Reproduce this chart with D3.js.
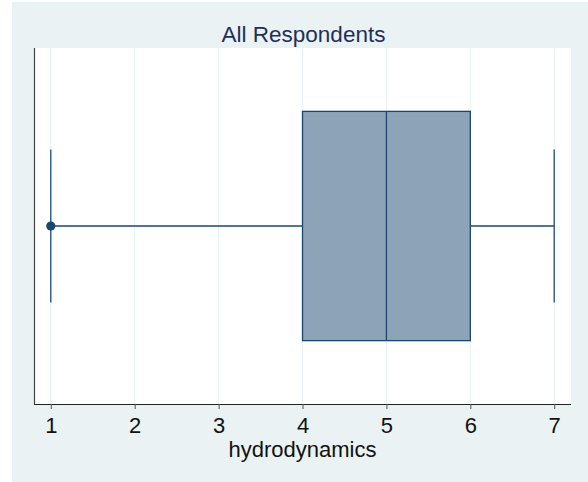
<!DOCTYPE html>
<html>
<head>
<meta charset="utf-8">
<script src="https://cdn.jsdelivr.net/npm/d3@7"></script>
<style>
  html, body { margin: 0; padding: 0; background: #ffffff; }
  svg { display: block; }
  text { font-family: "Liberation Sans", Arial, sans-serif; }
</style>
</head>
<body>
<svg id="chart" width="588" height="482"></svg>
<script>
// ---- data ----
const title = "All Respondents";
const variable = "hydrodynamics";
const tickValues = [1, 2, 3, 4, 5, 6, 7];
const boxStats = [{ lowerWhisker: 1, q1: 4, median: 5, q3: 6, upperWhisker: 7 }];
const outliers = [1];

// ---- layout ----
const W = 588, H = 482;
const bg = { x: 12, y: 2 };
const plot = { left: 34, right: 571, top: 48, bottom: 404 };

const svg = d3.select("#chart");

svg.append("rect").attr("x", bg.x).attr("y", bg.y)
  .attr("width", W - bg.x).attr("height", H - bg.y).attr("fill", "#eaf2f3");

svg.append("rect").attr("x", plot.left).attr("y", plot.top)
  .attr("width", plot.right - plot.left).attr("height", plot.bottom - plot.top)
  .attr("fill", "#ffffff");

const x = d3.scaleLinear().domain([0.8, 7.2]).range([plot.left, plot.right]);
const y = d3.scaleLinear().domain([0, 1]).range([plot.bottom, plot.top]);

// gridlines
svg.append("g").selectAll("line").data(tickValues).join("line")
  .attr("x1", d => x(d)).attr("x2", d => x(d))
  .attr("y1", plot.top).attr("y2", plot.bottom)
  .attr("stroke", "#e6eff1").attr("stroke-width", 1);

// title
svg.append("text").attr("x", (plot.left + plot.right) / 2 + 1).attr("y", 41.5)
  .attr("text-anchor", "middle").attr("font-size", 22.5).attr("fill", "#1e2f5c")
  .text(title);

const mid = 0.5, boxHalf = 0.322, capHalf = 0.215;
const navy = "#1a476f";

const g = svg.append("g");
boxStats.forEach(s => {
  // whiskers
  g.append("line").attr("x1", x(s.lowerWhisker)).attr("x2", x(s.q1))
    .attr("y1", y(mid)).attr("y2", y(mid)).attr("stroke", navy).attr("stroke-width", 1.4);
  g.append("line").attr("x1", x(s.q3)).attr("x2", x(s.upperWhisker))
    .attr("y1", y(mid)).attr("y2", y(mid)).attr("stroke", navy).attr("stroke-width", 1.4);
  // caps
  [s.lowerWhisker, s.upperWhisker].forEach(v => {
    g.append("line").attr("x1", x(v)).attr("x2", x(v))
      .attr("y1", y(mid + capHalf)).attr("y2", y(mid - capHalf))
      .attr("stroke", "#2a5a88").attr("stroke-width", 1.4);
  });
  // box
  g.append("rect").attr("x", x(s.q1)).attr("y", y(mid + boxHalf))
    .attr("width", x(s.q3) - x(s.q1)).attr("height", y(mid - boxHalf) - y(mid + boxHalf))
    .attr("fill", "#8ca3b8").attr("stroke", navy).attr("stroke-width", 1.3);
  // median
  g.append("line").attr("x1", x(s.median)).attr("x2", x(s.median))
    .attr("y1", y(mid + boxHalf)).attr("y2", y(mid - boxHalf))
    .attr("stroke", navy).attr("stroke-width", 1.3);
});

// outliers
g.selectAll("circle").data(outliers).join("circle")
  .attr("cx", d => x(d)).attr("cy", y(mid)).attr("r", 4.6).attr("fill", navy);

// left axis line
svg.append("line").attr("x1", plot.left + 0.5).attr("x2", plot.left + 0.5)
  .attr("y1", plot.top).attr("y2", plot.bottom)
  .attr("stroke", "#444").attr("stroke-width", 1.2);

// x axis
const xAxis = d3.axisBottom(x).tickValues(tickValues).tickFormat(d3.format("d"))
  .tickSize(5).tickSizeOuter(0).tickPadding(8);
const ax = svg.append("g").attr("transform", `translate(0,${plot.bottom})`).call(xAxis);
ax.select(".domain").attr("stroke", "#222").attr("stroke-width", 1.2)
  .attr("d", `M${plot.left},0.5H${plot.right}`);
ax.selectAll(".tick line").attr("stroke", "#555");
ax.selectAll(".tick text").attr("font-size", 22).attr("fill", "#111")
  .attr("font-family", "'Liberation Sans', Arial, sans-serif");

// axis title
svg.append("text").attr("x", (plot.left + plot.right) / 2).attr("y", 456.5)
  .attr("text-anchor", "middle").attr("font-size", 22).attr("fill", "#111")
  .text(variable);
</script>
</body>
</html>
